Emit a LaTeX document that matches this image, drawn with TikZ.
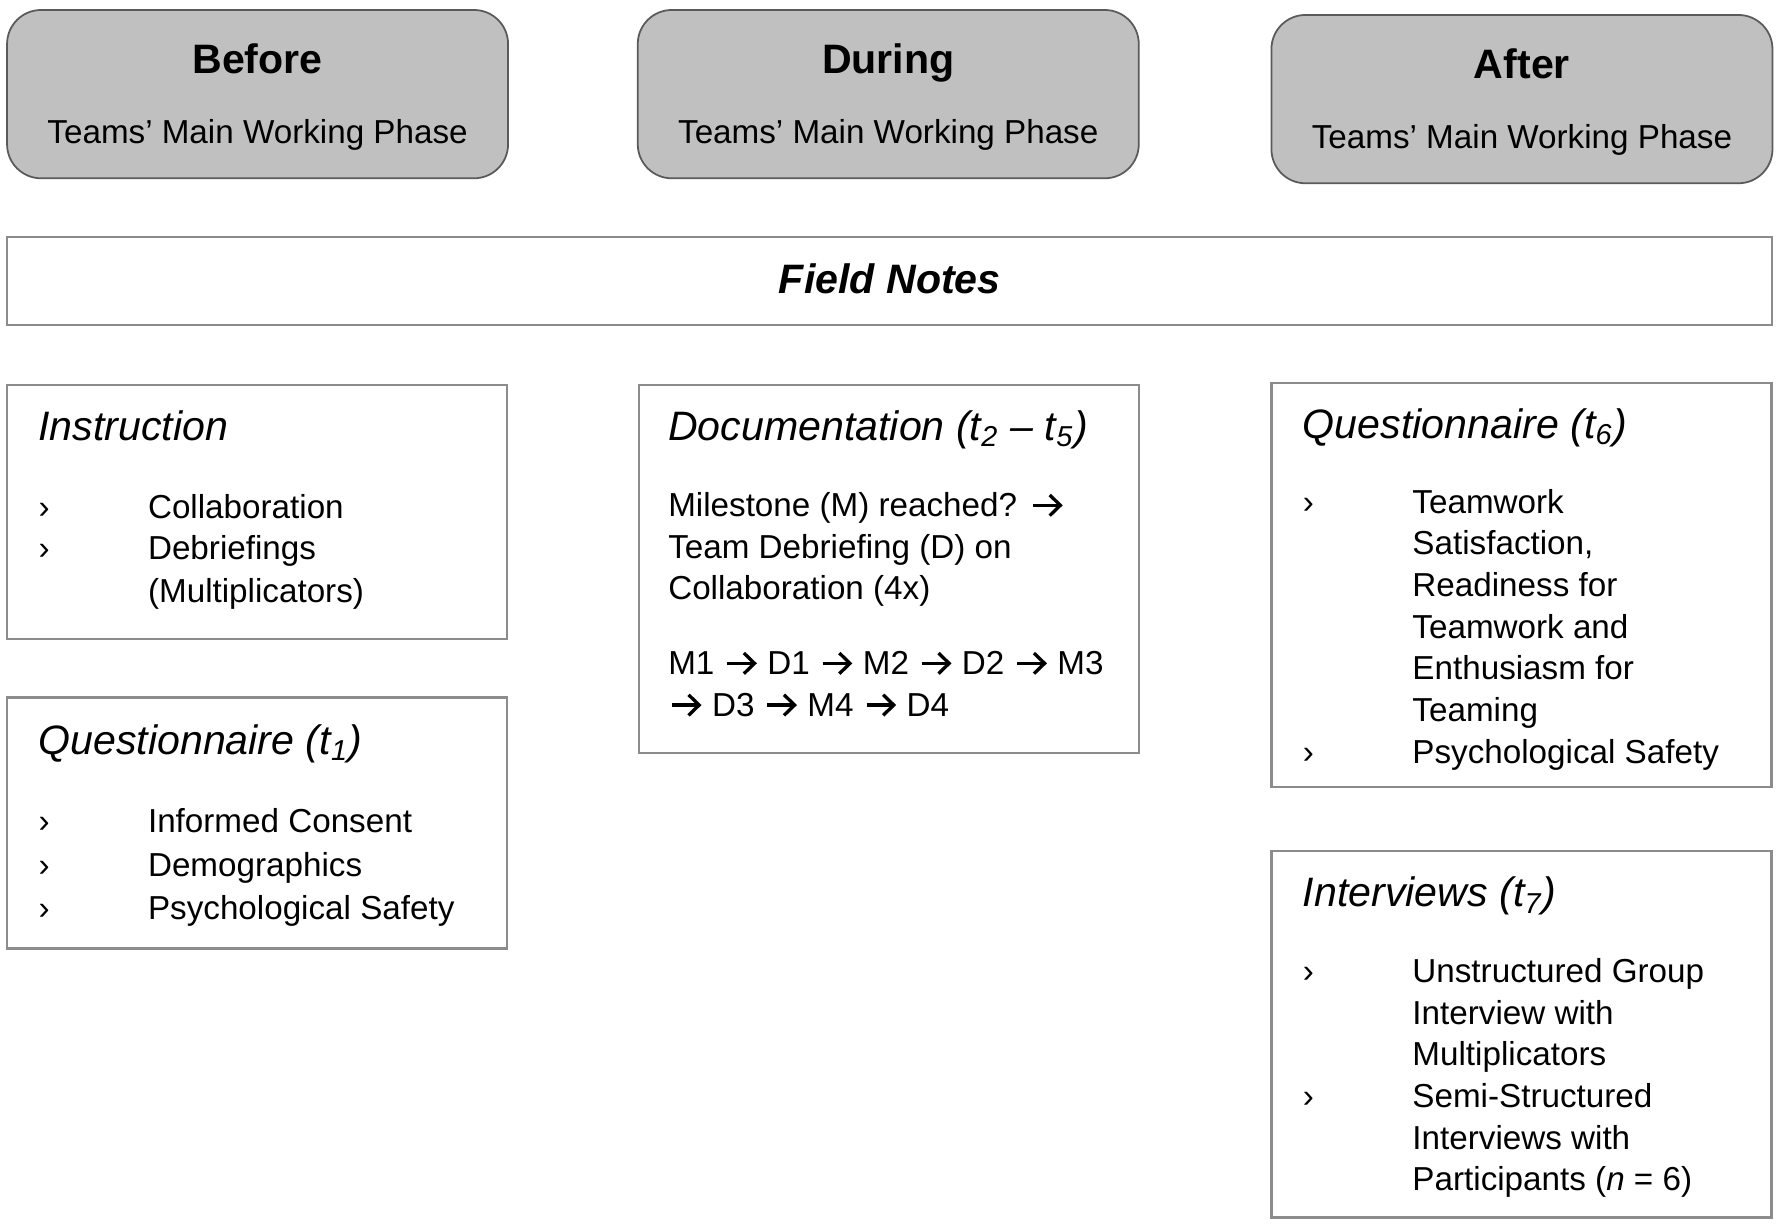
\documentclass[tikz,border=0pt]{standalone}
\usepackage{fontspec}
\setmainfont{Liberation Sans}
\usepackage{xcolor}
\usepackage{tikz}
\definecolor{phasefill}{HTML}{C0C0C0}
\definecolor{phaseline}{HTML}{5A5A5A}
\definecolor{panelline}{HTML}{8C8C8C}
\newcommand{\bul}{›}
% stroked arrow as in the milestone sequence
\newcommand{\arr}{\hspace{0.06em}\tikz[baseline=0pt, x=1em, y=1em, line width=0.1em]{%
  \draw (0,0.34) -- (0.8,0.34);
  \draw[line join=miter] (0.5,0.65) -- (0.82,0.34) -- (0.5,0.03);}\hspace{0.06em}}

\begin{document}
\begin{tikzpicture}[
    x=0.00996cm, y=-0.00996cm,
    phase/.style={draw=phaseline, fill=phasefill, rounded corners=0.34cm, line width=0.5pt,
                  minimum width=5.01cm, minimum height=1.683cm, inner sep=0},
    panel/.style={draw=panelline, line width=0.6pt, minimum width=5.0cm, inner sep=0},
    phasetitle/.style={anchor=base, inner sep=0, font=\fontsize{11.7}{14}\selectfont\bfseries},
    phasesub/.style={anchor=base, inner sep=0, font=\fontsize{9.45}{11.86}\selectfont},
    boxhead/.style={anchor=base west, inner sep=0, font=\fontsize{11.7}{14}\selectfont\itshape},
    boxitems/.style={anchor=base west, inner sep=0, font=\fontsize{9.45}{11.86}\selectfont},
  ]
  \useasboundingbox (0,0) rectangle (17.84cm,-12.31cm);

  % Phases
  \node[phase] (before) at (258.5,94.5) {};
  \node[phasetitle] (before-t) at (258.5,74) {Before};
  \node[phasesub] (before-s) at (258.5,144.5) {Teams’ Main Working Phase};

  \node[phase] (during) at (891.5,94.5) {};
  \node[phasetitle] (during-t) at (891.5,74) {During};
  \node[phasesub] (during-s) at (891.5,144.5) {Teams’ Main Working Phase};

  \node[phase] (after) at (1527.5,99.5) {};
  \node[phasetitle] (after-t) at (1527.5,79) {After};
  \node[phasesub] (after-s) at (1527.5,149.5) {Teams’ Main Working Phase};

  % Field notes
  \node[panel, minimum width=17.65cm, minimum height=0.876cm] (notes) at (893,282) {};
  \node[phasetitle] (notes-t) at (893,295) {\itshape Field Notes};

  % Before
  \node[panel, minimum height=2.54cm] (instr) at (257.5,513.5) {};
  \node[boxhead] (instr-h) at (38,442) {Instruction};
  \node[boxitems] (instr-l) at (38,520) {\begin{tabular}[t]{@{}p{1.095cm}@{}l@{}}
    \bul & Collaboration\\
    \bul & Debriefings\\[0.4pt]
         & (Multiplicators)
  \end{tabular}};

  \node[panel, minimum height=2.51cm] (quest1) at (257.5,826) {};
  \node[boxhead] (quest1-h) at (38,757) {Questionnaire (t\textsubscript{1})};
  \node[boxitems] (quest1-l) at (38,836) {\begin{tabular}[t]{@{}p{1.095cm}@{}l@{}}
    \bul & Informed Consent\\[0.5pt]
    \bul & Demographics\\[0.5pt]
    \bul & Psychological Safety
  \end{tabular}};

  % During
  \node[panel, minimum height=3.685cm] (docu) at (892,571) {};
  \node[boxhead] (docu-h) at (670,442) {Documentation (t\textsubscript{2} – t\textsubscript{5})};
  \node[boxitems] (docu-l) at (670,518.5) {\begin{tabular}[t]{@{}l@{}}
    Milestone (M) reached? \arr\\
    Team Debriefing (D) on\\
    Collaboration (4x)\\[0.33cm]
    M1 \arr{} D1 \arr{} M2 \arr{} D2 \arr{} M3\\
    \arr{} D3 \arr{} M4 \arr{} D4
  \end{tabular}};

  % After
  \node[panel, minimum height=4.044cm] (quest6) at (1527,587) {};
  \node[boxhead] (quest6-h) at (1307,440) {Questionnaire (t\textsubscript{6})};
  \node[boxitems] (quest6-l) at (1307,515) {\begin{tabular}[t]{@{}p{1.095cm}@{}l@{}}
    \bul & Teamwork\\
         & Satisfaction,\\
         & Readiness for\\
         & Teamwork and\\
         & Enthusiasm for\\
         & Teaming\\
    \bul & Psychological Safety
  \end{tabular}};

  \node[panel, minimum height=3.665cm] (interv) at (1527,1038) {};
  \node[boxhead] (interv-h) at (1307,910) {Interviews (t\textsubscript{7})};
  \node[boxitems] (interv-l) at (1307,986) {\begin{tabular}[t]{@{}p{1.095cm}@{}l@{}}
    \bul & Unstructured Group\\
         & Interview with\\
         & Multiplicators\\
    \bul & Semi-Structured\\
         & Interviews with\\
         & Participants (\textit{n} = 6)
  \end{tabular}};

\end{tikzpicture}
\end{document}
